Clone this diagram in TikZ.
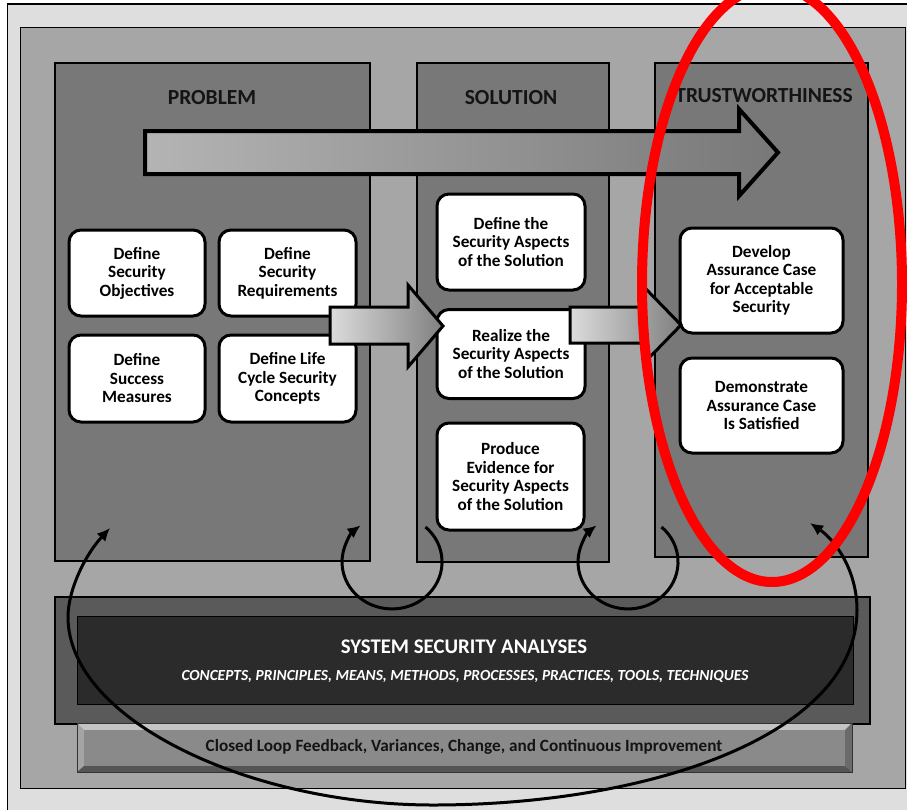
\documentclass[tikz,border=0pt]{standalone}
\usepackage{fontspec}
\setmainfont{Carlito}
\usetikzlibrary{arrows.meta}

\definecolor{framegray}{HTML}{DEDEDE}
\definecolor{basegray}{HTML}{A6A6A6}
\definecolor{panelgray}{HTML}{787878}
\definecolor{analysisouter}{HTML}{5A5A5A}
\definecolor{analysisinner}{HTML}{2B2B2B}
\definecolor{barface}{HTML}{8A8A8A}
\definecolor{barlight}{HTML}{C4C4C4}
\definecolor{barside}{HTML}{A4A4A4}
\definecolor{bardark}{HTML}{6A6A6A}
\definecolor{barbottom}{HTML}{555555}
\definecolor{flowlight}{HTML}{B4B4B4}
\definecolor{flowdark}{HTML}{787878}
\definecolor{steplight}{HTML}{DCDCDC}
\definecolor{stepdark}{HTML}{808080}
\definecolor{inktext}{HTML}{141414}

\begin{document}
\begin{tikzpicture}[x=1pt,y=1pt,
  panel/.style={draw=black, line width=2pt, fill=panelgray, inner sep=0pt},
  paneltitle/.style={font=\bfseries\fontsize{21.5}{24}\selectfont, text=inktext},
  taskbox/.style={draw=black, line width=3pt, fill=white, rounded corners=12pt,
    align=center, inner sep=0pt, font=\bfseries\fontsize{17.2}{18.5}\selectfont},
  flowarrow/.style={draw=black, line width=4pt, line join=miter,
    left color=flowlight, right color=flowdark},
  steparrow/.style={draw=black, line width=3pt, line join=miter,
    left color=steplight, right color=stepdark},
  loopline/.style={line width=3pt, -{Latex[length=13pt,width=12pt]}},
  bigloop/.style={line width=3pt,
    {Latex[length=13pt,width=12pt]}-{Latex[length=13pt,width=12pt]}}
]
\useasboundingbox (0,0) rectangle (907,-809);
\clip (0,0) rectangle (907,-809);

% backgrounds
\fill[white] (0,0) rectangle (907,-809);
\draw[fill=framegray, line width=1.5pt] (7.5,-4) rectangle (920,-820);
\draw[fill=basegray, line width=1pt] (20,-27) rectangle (905,-788);

% the three columns
\node[panel, minimum width=315, minimum height=498] (prob) at (212.5,-312) {};
\node[panel, minimum width=192, minimum height=499] (sol) at (513,-312.5) {};
\node[panel, minimum width=213, minimum height=494] (trust) at (761.5,-310) {};

\node[paneltitle] (probtitle) at (212,-98) {PROBLEM};
\node[paneltitle] (soltitle) at (511,-98) {SOLUTION};
\node[paneltitle] (trusttitle) at (764,-96) {TRUSTWORTHINESS};

% overall flow arrow
\draw[flowarrow] (145,-131) -- (739,-131) -- (739,-109) -- (778,-152.5)
  -- (739,-196) -- (739,-174) -- (145,-174) -- cycle;

% problem activities
\node[taskbox, minimum width=136, minimum height=86] (objectives) at (137,-273)
  {Define\\Security\\Objectives};
\node[taskbox, minimum width=137, minimum height=86] (requirements) at (287.5,-273)
  {Define\\Security\\Requirements};
\node[taskbox, minimum width=136, minimum height=87] (measures) at (137,-378.5)
  {Define\\Success\\Measures};
\node[taskbox, minimum width=137, minimum height=87] (lifecycle) at (287.5,-378.5)
  {Define Life\\Cycle Security\\Concepts};

% solution activities
\node[taskbox, minimum width=148, minimum height=96] (definesol) at (511,-242)
  {Define the\\Security Aspects\\of the Solution};
\node[taskbox, minimum width=148, minimum height=89] (realize) at (511,-354)
  {Realize the\\Security Aspects\\of the Solution};
\node[taskbox, minimum width=147, minimum height=107] (evidence) at (510.5,-476.5)
  {Produce\\Evidence for\\Security Aspects\\of the Solution};

% trustworthiness activities
\node[taskbox, minimum width=163, minimum height=105] (develop) at (761.5,-280.5)
  {Develop\\Assurance Case\\for Acceptable\\Security};
\node[taskbox, minimum width=163, minimum height=95] (demonstrate) at (761.5,-405.5)
  {Demonstrate\\Assurance Case\\Is Satisfied};

% step arrows between the columns
\draw[steparrow] (330,-307) -- (408,-307) -- (408,-285) -- (443,-326)
  -- (408,-367) -- (408,-344) -- (330,-344) -- cycle;
\draw[steparrow] (570,-307) -- (645,-307) -- (645,-288) -- (681,-325)
  -- (645,-362) -- (645,-343) -- (570,-343) -- cycle;

% system security analyses band
\draw[fill=analysisouter, line width=2.5pt] (55,-597) rectangle (870,-724);
\node[fill=analysisinner, draw=black, line width=0.8pt, inner sep=0pt,
  minimum width=776, minimum height=88] (analyses) at (465,-660) {};
\node[font=\bfseries\fontsize{20.8}{24}\selectfont, text=white] (analysestitle)
  at (464,-647) {SYSTEM SECURITY ANALYSES};
\node[font=\bfseries\itshape\fontsize{15.4}{18}\selectfont, text=white] (analysesitems)
  at (465,-676) {CONCEPTS, PRINCIPLES, MEANS, METHODS, PROCESSES, PRACTICES, TOOLS, TECHNIQUES};

% bevelled feedback bar
\fill[barlight] (77,-723) -- (852,-723) -- (845,-730) -- (84,-730) -- cycle;
\fill[barside] (77,-723) -- (84,-730) -- (84,-766) -- (77,-772) -- cycle;
\fill[bardark] (852,-723) -- (852,-772) -- (845,-766) -- (845,-730) -- cycle;
\fill[barbottom] (77,-772) -- (852,-772) -- (845,-766) -- (84,-766) -- cycle;
\fill[barface] (84,-730) rectangle (845,-766);
\draw[line width=0.8pt, black!80] (77,-723) rectangle (852,-772);
\node[font=\bfseries\fontsize{17.2}{20}\selectfont, text=inktext] (feedback)
  at (464,-747) {Closed Loop Feedback, Variances, Change, and Continuous Improvement};

% feedback loops
\coordinate (loopAstart) at (425.5,-527);
\coordinate (loopBstart) at (661.5,-527);
\draw[loopline] (loopAstart) arc[start angle=48, end angle=-231, x radius=50, y radius=47];
\draw[loopline] (loopBstart) arc[start angle=48, end angle=-231, x radius=50, y radius=47];

\coordinate (bigL) at (110,-528);
\coordinate (bigR) at (810,-523);
\draw[bigloop] (bigL) .. controls (85,-555) and (68,-590) .. (68,-617)
  .. controls (68,-720) and (250,-805) .. (433,-805)
  .. controls (650,-805) and (857,-735) .. (857,-610)
  .. controls (857,-570) and (835,-540) .. (bigR);

% highlight ring
\draw[red, line width=10pt] (772,-284) ellipse [x radius=130, y radius=298];
\end{tikzpicture}
\end{document}
